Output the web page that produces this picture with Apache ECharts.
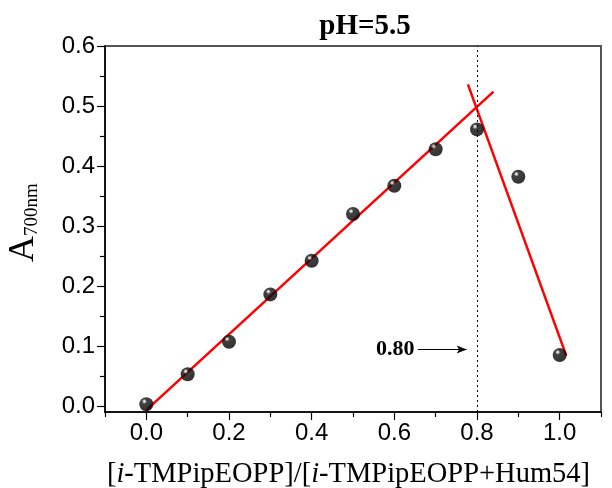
<!DOCTYPE html>
<html><head><meta charset="utf-8">
<script src="https://cdn.jsdelivr.net/npm/echarts@6/dist/echarts.min.js"></script>
<style>html,body{margin:0;padding:0;background:#fff}#c{width:612px;height:488px}</style>
</head><body><div id="c"></div>
<script>
const ratioX = [0.0, 0.1, 0.2, 0.3, 0.4, 0.5, 0.6, 0.7, 0.8, 0.9, 1.0];
const absorbance = [0.003, 0.053, 0.107, 0.186, 0.242, 0.320, 0.367, 0.428, 0.461, 0.382, 0.085];
const fitRiseX = [0.0, 0.84];
const fitRiseY = [-0.007, 0.524];
const fitFallX = [0.778, 1.016];
const fitFallY = [0.536, 0.084];
const xLabelValues = [0.0, 0.2, 0.4, 0.6, 0.8, 1.0];
const xMinorValues = [-0.1, 0.1, 0.3, 0.5, 0.7, 0.9, 1.1];
const yLabelValues = [0.0, 0.1, 0.2, 0.3, 0.4, 0.5, 0.6];
const yMinorValues = [0.05, 0.15, 0.25, 0.35, 0.45, 0.55];
const breakX = 0.8;
const breakLabel = '0.80';
const arrowFrom = [0.657, 0.094];
const arrowTo = [0.775, 0.094];

const serif = 'Liberation Serif';
const sans = 'Liberation Sans';
const chart = echarts.init(document.getElementById('c'));
const xMin = -0.1, xMax = 1.1, yMin = -0.01, yMax = 0.6;
const gridBase = {left:105, right:11, top:46, bottom:76};

function xAxisDef(major){
  return {
    type:'value', min:xMin, max:xMax, position:'bottom',
    axisLine:{show:major, onZero:false, lineStyle:{color:'#000', width:1.5}},
    axisTick:{show:true, inside:false, length: major?8:5, customValues: major?xLabelValues:xMinorValues, lineStyle:{color:'#000', width:1.2}},
    axisLabel:{show:major, customValues:xLabelValues, formatter:v=>v.toFixed(1), fontFamily:sans, fontSize:24, color:'#000', margin:9},
    splitLine:{show:false},
    name: major ? '[{i|i}-TMPipEOPP]/[{i|i}-TMPipEOPP+Hum54]' : '',
    nameLocation:'middle', nameGap:48,
    nameTextStyle:{fontFamily:serif, fontSize:28.5, color:'#000', padding:[0,9,0,0],
      rich:{i:{fontFamily:serif, fontStyle:'italic', fontSize:28.5, color:'#000'}}}
  };
}
function yAxisDef(major){
  return {
    type:'value', min:yMin, max:yMax, position:'left',
    axisLine:{show:major, onZero:false, lineStyle:{color:'#000', width:1.5}},
    axisTick:{show:true, inside:false, length: major?8:5, customValues: major?yLabelValues:yMinorValues, lineStyle:{color:'#000', width:1.2}},
    axisLabel:{show:major, customValues:yLabelValues, formatter:v=>v.toFixed(1), fontFamily:sans, fontSize:24, color:'#000', margin:10},
    splitLine:{show:false},
    name: major ? '{a|A}{s|700nm}' : '',
    nameLocation:'middle', nameRotate:90, nameGap:63,
    nameTextStyle:{padding:[0,0,0,13], rich:{
      a:{fontFamily:serif, fontSize:36, lineHeight:36, verticalAlign:'bottom', color:'#000'},
      s:{fontFamily:serif, fontSize:19, lineHeight:19, verticalAlign:'bottom', color:'#000'}
    }}
  };
}

const sphere = {type:'radial', x:0.36, y:0.3, r:0.7, colorStops:[
  {offset:0, color:'#ffffff'}, {offset:0.1, color:'#bbbbbb'}, {offset:0.26, color:'#111'}, {offset:1, color:'#000'}]};

chart.setOption({
  animation:false,
  title:{text:'pH=5.5', left:360, top:7, textAlign:'center',
    textStyle:{fontFamily:serif, fontWeight:'bold', fontSize:29, color:'#000', letterSpacing:-0.3}},
  grid:{...gridBase, outerBoundsMode:'none', containLabel:false, show:true, borderColor:'#555', borderWidth:2, backgroundColor:'transparent'},
  xAxis:[xAxisDef(true), xAxisDef(false)],
  yAxis:[yAxisDef(true), yAxisDef(false)],
  series:[
    {type:'line', data:fitRiseX.map((x,i)=>[x,fitRiseY[i]]), showSymbol:false, symbol:'none',
      lineStyle:{color:'#ff0000', width:2.5}, z:3,
      markLine:{silent:true, symbol:['none','none'], label:{show:false},
        lineStyle:{color:'#000', type:[2,3], width:1}, data:[{xAxis:breakX}]}},
    {type:'line', data:fitFallX.map((x,i)=>[x,fitFallY[i]]), showSymbol:false, symbol:'none',
      lineStyle:{color:'#ff0000', width:2.5}, z:3,
      markLine:{silent:true, symbol:['none','arrow'], symbolSize:[6,10], label:{show:false},
        lineStyle:{color:'#000', type:'solid', width:1},
        data:[[{coord:arrowFrom},{coord:arrowTo}]]},
      markPoint:{silent:true, symbol:'circle', symbolSize:0,
        data:[{coord:[arrowFrom[0]-0.008, arrowFrom[1]], label:{show:true, formatter:breakLabel, position:'left', distance:0,
          fontFamily:serif, fontWeight:'bold', fontSize:22, color:'#000'}}]}},
    {type:'scatter', data:ratioX.map((x,i)=>[x,absorbance[i]]), symbol:'circle', symbolSize:14,
      itemStyle:{color:sphere}, z:4}
  ]
});
</script></body></html>
